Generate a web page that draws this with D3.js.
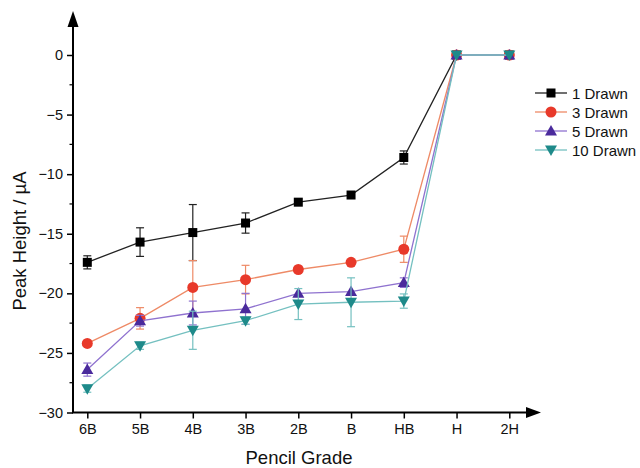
<!DOCTYPE html>
<html>
<head>
<meta charset="utf-8">
<script src="https://cdn.jsdelivr.net/npm/d3@7"></script>
<style>
  body { margin: 0; background: #fff; }
  svg { font-family: "Liberation Sans", Arial, sans-serif; }
</style>
</head>
<body>
<svg id="chart" width="640" height="468"></svg>
<script>
var grades = ["6B", "5B", "4B", "3B", "2B", "B", "HB", "H", "2H"];
var yTicks = [-30, -25, -20, -15, -10, -5, 0];

var drawn1 = [-17.4, -15.7, -14.9, -14.1, -12.35, -11.75, -8.6, 0, 0];
var err1   = [0.55, 1.2, 2.35, 0.85, 0.15, 0.1, 0.55, 0, 0];
var drawn3 = [-24.2, -22.1, -19.5, -18.85, -18.0, -17.4, -16.3, 0, 0];
var err3   = [0.1, 0.9, 2.25, 1.2, 0.15, 0.1, 1.1, 0, 0];
var drawn5 = [-26.4, -22.3, -21.65, -21.3, -20.0, -19.85, -19.1, 0, 0];
var err5   = [0.55, 0.45, 1.0, 1.3, 0.15, 0.1, 0.4, 0, 0];
var drawn10 = [-28.0, -24.4, -23.1, -22.3, -20.9, -20.75, -20.65, 0, 0];
var err10   = [0.3, 0.3, 1.6, 0.3, 1.3, 2.05, 0.6, 0, 0];

var series = [
    { name: "1 Drawn", values: drawn1, err: err1, fill: "#000000", line: "#222222", shape: "square" },
    { name: "3 Drawn", values: drawn3, err: err3, fill: "#e8392a", line: "#ee8a66", shape: "circle" },
    { name: "5 Drawn", values: drawn5, err: err5, fill: "#4a2a9c", line: "#8f72cf", shape: "up" },
    { name: "10 Drawn", values: drawn10, err: err10, fill: "#1e8a8a", line: "#74c0c0", shape: "down" }
];

var svg = d3.select("#chart");

var x = d3.scalePoint().domain(grades).range([87.3, 509.3]);
var y = d3.scaleLinear().domain([-30, 0]).range([412.5, 55]);

var axisX = 73, axisY = 412.5;

// y axis
svg.append("line")
    .attr("x1", axisX).attr("x2", axisX)
    .attr("y1", axisY).attr("y2", 20)
    .attr("stroke", "#000").attr("stroke-width", 2);
svg.append("path")
    .attr("d", "M" + axisX + ",11 L" + (axisX - 5.5) + ",27 L" + (axisX + 5.5) + ",27 Z")
    .attr("fill", "#000");

var yAxis = svg.append("g")
    .attr("transform", "translate(" + axisX + ",0)")
    .call(d3.axisLeft(y).tickValues(yTicks).tickSize(6).tickPadding(4).tickFormat(d3.format("d")));
yAxis.attr("font-size", 14.5).attr("font-family", "Liberation Sans, Arial, sans-serif");
yAxis.select(".domain").remove();
yAxis.selectAll(".tick line").attr("stroke-width", 1.5);
yAxis.selectAll(".tick text").attr("fill", "#111");

var minorY = d3.range(-27.5, 0, 5);
svg.append("g").selectAll("line").data(minorY).enter().append("line")
    .attr("x1", axisX - 3.5).attr("x2", axisX)
    .attr("y1", function(d) { return y(d); })
    .attr("y2", function(d) { return y(d); })
    .attr("stroke", "#000").attr("stroke-width", 1.2);

// x axis
svg.append("line")
    .attr("x1", axisX - 1).attr("x2", 530)
    .attr("y1", axisY).attr("y2", axisY)
    .attr("stroke", "#000").attr("stroke-width", 2);
svg.append("path")
    .attr("d", "M541," + axisY + " L526," + (axisY - 5.5) + " L526," + (axisY + 5.5) + " Z")
    .attr("fill", "#000");

var xAxis = svg.append("g")
    .attr("transform", "translate(0," + axisY + ")")
    .call(d3.axisBottom(x).tickSize(6).tickPadding(5));
xAxis.attr("font-size", 14.5).attr("font-family", "Liberation Sans, Arial, sans-serif");
xAxis.select(".domain").remove();
xAxis.selectAll(".tick line").attr("stroke-width", 1.5);
xAxis.selectAll(".tick text").attr("fill", "#111");

// axis titles
svg.append("text")
    .attr("x", 299).attr("y", 464)
    .attr("text-anchor", "middle")
    .attr("font-size", 18.5)
    .attr("fill", "#111")
    .text("Pencil Grade");

svg.append("text")
    .attr("transform", "translate(26,241) rotate(-90)")
    .attr("text-anchor", "middle")
    .attr("font-size", 18.5)
    .attr("fill", "#111")
    .text("Peak Height / \u00b5A");

function drawMarker(g, shape, fill, cx, cy) {
    if (shape == "square") {
        g.append("rect").attr("x", cx - 4.5).attr("y", cy - 4.5)
            .attr("width", 9).attr("height", 9).attr("fill", fill);
    } else if (shape == "circle") {
        g.append("circle").attr("cx", cx).attr("cy", cy).attr("r", 5.5).attr("fill", fill);
    } else if (shape == "up") {
        g.append("path")
            .attr("d", "M" + cx + "," + (cy - 6) + " L" + (cx - 6) + "," + (cy + 4.5) + " L" + (cx + 6) + "," + (cy + 4.5) + " Z")
            .attr("fill", fill);
    } else {
        g.append("path")
            .attr("d", "M" + cx + "," + (cy + 6) + " L" + (cx - 6) + "," + (cy - 4.5) + " L" + (cx + 6) + "," + (cy - 4.5) + " Z")
            .attr("fill", fill);
    }
}

var line = d3.line()
    .x(function(d, i) { return x(grades[i]); })
    .y(function(d) { return y(d); });

var plot = svg.append("g");

series.forEach(function(s) {
    var g = plot.append("g");
    g.append("path")
        .attr("d", line(s.values))
        .attr("fill", "none")
        .attr("stroke", s.line)
        .attr("stroke-width", 1.3);

    s.values.forEach(function(v, i) {
        var e = s.err[i];
        if (e > 0.2) {
            var cx = x(grades[i]);
            g.append("line").attr("x1", cx).attr("x2", cx)
                .attr("y1", y(v - e)).attr("y2", y(v + e))
                .attr("stroke", s.line).attr("stroke-width", 1.2);
            [v - e, v + e].forEach(function(t) {
                g.append("line").attr("x1", cx - 4).attr("x2", cx + 4)
                    .attr("y1", y(t)).attr("y2", y(t))
                    .attr("stroke", s.line).attr("stroke-width", 1.2);
            });
        }
    });

    s.values.forEach(function(v, i) {
        drawMarker(g, s.shape, s.fill, x(grades[i]), y(v));
    });
});

// legend
var legend = svg.append("g").attr("transform", "translate(535,93)");
series.forEach(function(s, i) {
    var row = legend.append("g").attr("transform", "translate(0," + (i * 19) + ")");
    row.append("line").attr("x1", 0).attr("x2", 32).attr("y1", 0).attr("y2", 0)
        .attr("stroke", s.line).attr("stroke-width", 1.3);
    drawMarker(row, s.shape, s.fill, 16, 0);
    row.append("text").attr("x", 37).attr("y", 5.5)
        .attr("font-size", 15).attr("fill", "#111")
        .text(s.name);
});
</script>
</body>
</html>
